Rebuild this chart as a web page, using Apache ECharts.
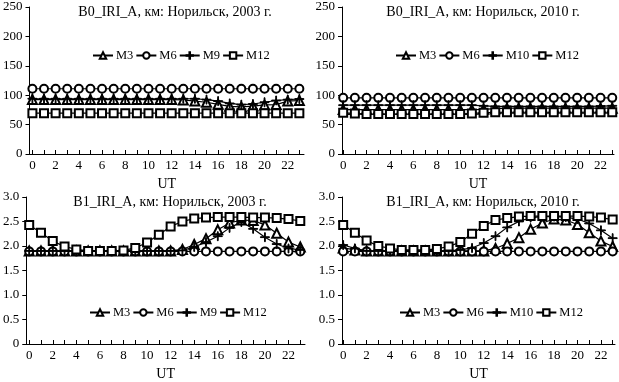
<!DOCTYPE html>
<html><head><meta charset="utf-8">
<script src="https://cdn.jsdelivr.net/npm/echarts@6/dist/echarts.min.js"></script>
<style>html,body{margin:0;padding:0;background:#fff}#c{width:619px;height:382px}</style>
</head><body><div id="c"></div>
<script>
const hours = [0,1,2,3,4,5,6,7,8,9,10,11,12,13,14,15,16,17,18,19,20,21,22,23];
const xLabels = [0,2,4,6,8,10,12,14,16,18,20,22];
const titles = ['B0_IRI_A, км: Норильск, 2003 г.','B0_IRI_A, км: Норильск, 2010 г.','B1_IRI_A, км: Норильск, 2003 г.','B1_IRI_A, км: Норильск, 2010 г.'];
const names2003 = ['M3','M6','M9','M12'];
const names2010 = ['M3','M6','M10','M12'];
const yTicksB0 = [0,50,100,150,200,250];
const yTicksB1 = [0,0.5,1.0,1.5,2.0,2.5,3.0];

// B0, 2003
const b0_2003_m3  = [92.5,92.5,92.5,92.5,92.5,92.5,92.5,92.5,92.5,92.5,92.5,92.5,92.5,92,90,88,84.5,81,80,81.5,83.5,84,90,91];
const b0_2003_m6  = [111,111,111,111,111,111,111,111,111,111,111,111,111,111,111,111,111,111,111,111,111,111,111,111];
const b0_2003_m9  = [94,94,94,94,94,94,94,94,94,94,94,94,94,94,94,92.5,90,86,84,85,88,91,92.5,93.5];
const b0_2003_m12 = [69.5,69.5,69.5,69.5,69.5,69.5,69.5,69.5,69.5,69.5,69.5,69.5,69.5,69.5,69.5,69.5,69.5,69.5,69.5,69.5,69.5,69.5,69.5,69.5];
// B0, 2010
const b0_2010_m3  = [75.5,75.5,75.5,75.5,75.5,75.5,75.5,75.5,75.5,75.5,75.5,75.5,76,77,78,78,78,78,78,78,78,78,78,78];
const b0_2010_m6  = [95.5,95.5,95.5,95.5,95.5,95.5,95.5,95.5,95.5,95.5,95.5,95.5,95.5,95.5,95.5,95.5,95.5,95.5,95.5,95.5,95.5,95.5,95.5,95.5];
const b0_2010_m10 = [83,83,83,83,83,83,83,83,83,83,83,83,82,81,81,81,81,81,81,81,81,81,81.5,82];
const b0_2010_m12 = [70,69,68,68,68,68,68,68,68,68,68,69,70,71,71,71,71,71,71,71,71,71,71,71];
// B1, 2003
const b1_2003_m3  = [1.9,1.9,1.9,1.9,1.9,1.9,1.9,1.9,1.9,1.9,1.9,1.9,1.9,1.93,2.03,2.15,2.33,2.47,2.53,2.52,2.43,2.26,2.08,1.98];
const b1_2003_m6  = [1.89,1.89,1.89,1.89,1.89,1.89,1.89,1.89,1.89,1.89,1.89,1.89,1.89,1.89,1.89,1.89,1.89,1.89,1.89,1.89,1.89,1.89,1.89,1.89];
const b1_2003_m9  = [1.9,1.9,1.9,1.9,1.9,1.9,1.9,1.9,1.9,1.9,1.9,1.9,1.9,1.91,1.98,2.08,2.2,2.37,2.49,2.35,2.18,2.04,1.95,1.92];
const b1_2003_m12 = [2.43,2.27,2.1,1.99,1.93,1.9,1.9,1.9,1.91,1.96,2.07,2.23,2.4,2.5,2.56,2.58,2.59,2.59,2.59,2.58,2.58,2.57,2.55,2.51];
// B1, 2010
const b1_2010_m3  = [1.96,1.92,1.9,1.9,1.9,1.9,1.9,1.9,1.9,1.9,1.9,1.9,1.9,1.95,2.05,2.17,2.34,2.47,2.55,2.53,2.44,2.27,2.1,1.99];
const b1_2010_m6  = [1.89,1.89,1.89,1.89,1.89,1.89,1.89,1.89,1.89,1.89,1.89,1.89,1.89,1.89,1.89,1.89,1.89,1.89,1.89,1.89,1.89,1.89,1.89,1.89];
const b1_2010_m10 = [2.02,1.95,1.9,1.9,1.9,1.9,1.9,1.9,1.9,1.9,1.92,1.96,2.06,2.2,2.38,2.5,2.58,2.6,2.6,2.59,2.55,2.46,2.32,2.16];
const b1_2010_m12 = [2.43,2.27,2.11,2.0,1.95,1.92,1.92,1.92,1.94,1.99,2.08,2.25,2.41,2.53,2.57,2.6,2.61,2.61,2.61,2.61,2.61,2.6,2.58,2.54];

const FONT = 'Liberation Serif';
const plus = 'path://M4.55,0h0.9v10h-0.9zM0,4.55h10v0.9h-10z';
const symbols = ['emptyTriangle','emptyCircle',plus,'emptyRect'];
const sizes = [9,8,9,8];

const panels = [
  {grid:{left:26,top:7,width:278,height:147}, xmin:-0.25, xmax:23.4, b0:true, names:names2003, data:[b0_2003_m3,b0_2003_m6,b0_2003_m9,b0_2003_m12], title:titles[0], tx:170, ty:0, lx:87, ly:44},
  {grid:{left:342,top:7,width:272,height:147}, xmin:-0.1, xmax:23.15, b0:true, names:names2010, data:[b0_2010_m3,b0_2010_m6,b0_2010_m10,b0_2010_m12], title:titles[1], tx:478, ty:0, lx:390, ly:44},
  {grid:{left:26,top:197,width:279,height:148}, xmin:-0.25, xmax:23.4, b0:false, names:names2003, data:[b1_2003_m3,b1_2003_m6,b1_2003_m9,b1_2003_m12], title:titles[2], tx:165, ty:190, lx:84, ly:301},
  {grid:{left:342,top:197,width:273,height:148}, xmin:-0.1, xmax:23.2, b0:false, names:names2010, data:[b1_2010_m3,b1_2010_m6,b1_2010_m10,b1_2010_m12], title:titles[3], tx:478, ty:190, lx:394, ly:301}
];

const option = {animation:false, backgroundColor:'#fff', textStyle:{fontFamily:FONT,color:'#000'},
  title:[], legend:[], grid:[], xAxis:[], yAxis:[], series:[]};

panels.forEach((p,i)=>{
  option.title.push({text:p.title, left:p.tx, top:p.ty, textAlign:'center',
    textStyle:{fontFamily:FONT,fontSize:14,fontWeight:'normal',color:'#000'}});
  option.grid.push(p.grid);
  option.xAxis.push({type:'value', gridIndex:i, min:p.xmin, max:p.xmax,
    name:'UT', nameLocation:'middle', nameGap:23,
    nameTextStyle:{fontFamily:FONT,fontSize:14,color:'#000'},
    axisLine:{onZero:false,lineStyle:{color:'#000',width:1}},
    axisTick:{inside:true,length:4,customValues:hours,lineStyle:{color:'#000'}},
    axisLabel:{customValues:xLabels,fontFamily:FONT,fontSize:13,color:'#000',margin:5},
    splitLine:{show:false}});
  const yt = p.b0 ? yTicksB0 : yTicksB1;
  option.yAxis.push({type:'value', gridIndex:i, min:yt[0], max:yt[yt.length-1],
    axisLine:{show:true,onZero:false,lineStyle:{color:'#000',width:1}},
    axisTick:{show:true,length:4,customValues:yt,lineStyle:{color:'#000'}},
    axisLabel:{customValues:yt,fontFamily:FONT,fontSize:13,color:'#000',margin:7,
      formatter:v=> p.b0 ? String(v) : (v===0?'0':v.toFixed(1))},
    splitLine:{show:false}});
  const names = p.names.map(n=>n+'_'+i);
  option.legend.push({left:p.lx, top:p.ly, orient:'horizontal', itemWidth:20, itemHeight:8, itemGap:2,
    data:names, formatter:n=>n.split('_')[0],
    textStyle:{fontFamily:FONT,fontSize:12.5,color:'#000',padding:[0,0,0,-2]}});
  p.data.forEach((arr,k)=>{
    option.series.push({type:'line', name:names[k], xAxisIndex:i, yAxisIndex:i,
      data:hours.map((h,j)=>[h,arr[j]]),
      symbol:symbols[k], symbolSize:sizes[k], showAllSymbol:true,
      lineStyle:{color:'#000',width:1.2},
      itemStyle:{color:'#000',borderColor:'#000',borderWidth:1},
      emphasis:{disabled:true}, z:2+k});
  });
});

const chart = echarts.init(document.getElementById('c'), null, {renderer:'canvas'});
chart.setOption(option);
</script></body></html>
